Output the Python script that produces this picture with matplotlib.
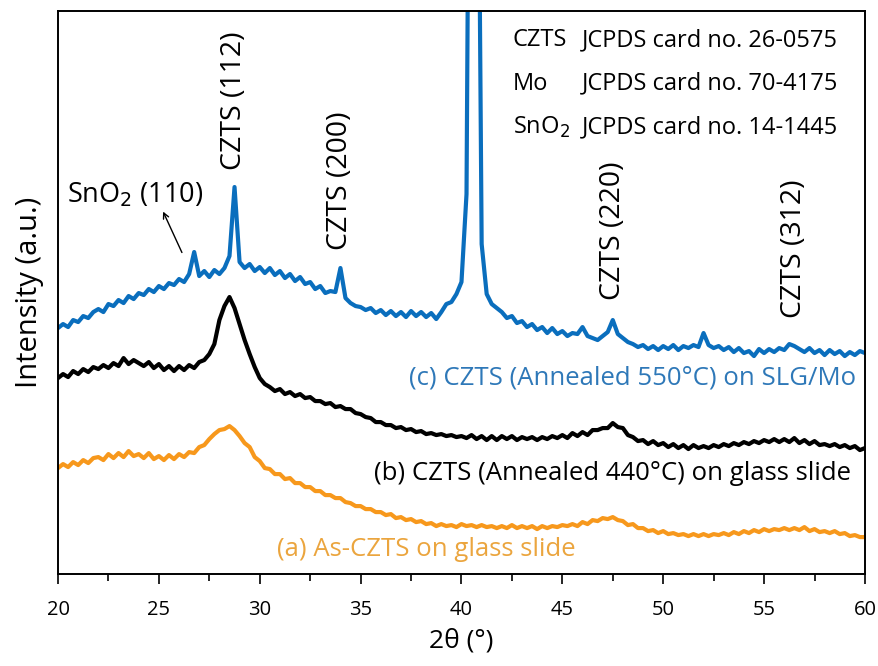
import numpy as np
import matplotlib.pyplot as plt
from matplotlib.ticker import MultipleLocator

plt.rcParams['font.family'] = ['Open Sans', 'DejaVu Sans']

# --- Data (intensity in arbitrary units) ---
two_theta = np.arange(20.0, 60.001, 0.25)

# (c) CZTS annealed 550 C on SLG/Mo
int_c = [246, 250, 247, 254, 252, 258, 256, 262,
         265, 262, 270, 268, 274, 271, 278, 275,
         281, 279, 285, 282, 288, 285, 291, 289,
         295, 292, 300, 322, 298, 303, 297, 304,
         300, 306, 318, 387, 312, 306, 310, 303,
         307, 301, 306, 299, 303, 296, 300, 293,
         297, 290, 292, 285, 288, 281, 283, 282,
         306, 276, 271, 268, 267, 264, 266, 261,
         264, 259, 263, 258, 262, 257, 263, 258,
         262, 257, 261, 255, 262, 270, 272, 280,
         292, 380, 1200, 1000, 330, 280, 270, 266,
         262, 256, 258, 251, 253, 247, 250, 244,
         247, 241, 246, 240, 243, 238, 241, 240,
         247, 238, 236, 234, 238, 242, 254, 240,
         236, 232, 230, 227, 229, 225, 228, 224,
         228, 225, 229, 224, 228, 226, 229, 227,
         241, 229, 226, 228, 224, 227, 222, 226,
         221, 223, 218, 225, 221, 225, 222, 226,
         224, 230, 228, 225, 222, 226, 221, 224,
         219, 224, 220, 223, 218, 222, 219, 223,
         221]

# (b) CZTS annealed 440 C on glass slide
int_b = [196, 200, 197, 203, 200, 205, 202, 207,
         205, 209, 206, 211, 208, 216, 210, 214,
         211, 208, 212, 206, 210, 204, 208, 203,
         208, 204, 209, 206, 212, 214, 220, 230,
         254, 268, 277, 266, 250, 234, 220, 207,
         196, 190, 187, 183, 185, 180, 182, 178,
         180, 176, 177, 173, 173, 170, 171, 167,
         168, 165, 165, 161, 160, 157, 156, 152,
         152, 149, 149, 146, 147, 144, 145, 142,
         143, 140, 141, 139, 140, 138, 139, 137,
         138, 136, 139, 135, 138, 134, 138, 134,
         138, 135, 138, 134, 137, 135, 137, 134,
         137, 135, 138, 136, 139, 136, 141, 138,
         142, 139, 144, 144, 146, 146, 151, 147,
         146, 139, 137, 133, 134, 130, 133, 129,
         131, 127, 130, 126, 129, 125, 129, 126,
         128, 126, 129, 127, 130, 128, 131, 129,
         132, 130, 133, 131, 134, 132, 135, 132,
         135, 132, 136, 131, 134, 130, 133, 129,
         130, 128, 130, 127, 129, 126, 128, 124,
         126]

# (a) As-CZTS on glass slide
int_a = [106, 110, 107, 112, 109, 114, 111, 116,
         117, 114, 120, 116, 121, 117, 123, 118,
         120, 116, 121, 115, 118, 114, 119, 115,
         120, 117, 122, 121, 127, 129, 135, 140,
         144, 145, 148, 144, 138, 131, 127, 117,
         113, 106, 105, 100, 100, 95, 96, 91,
         91, 87, 87, 83, 83, 79, 79, 76,
         76, 72, 71, 68, 68, 65, 65, 62,
         62, 59, 60, 56, 57, 54, 55, 52,
         53, 50, 51, 48, 50, 48, 49, 47,
         50, 48, 49, 47, 49, 47, 48, 46,
         48, 46, 49, 46, 48, 46, 48, 45,
         48, 46, 48, 47, 49, 48, 50, 48,
         52, 50, 54, 53, 56, 55, 57, 54,
         53, 49, 50, 46, 46, 43, 44, 41,
         43, 40, 41, 39, 40, 38, 40, 38,
         40, 38, 40, 39, 41, 39, 42, 40,
         43, 41, 44, 42, 45, 43, 45, 44,
         46, 44, 46, 44, 47, 43, 45, 42,
         43, 41, 43, 40, 41, 38, 39, 37,
         37]

peak_labels = ['CZTS (112)', 'CZTS (200)', 'CZTS (220)', 'CZTS (312)']
peak_pos = [28.7, 34.0, 47.5, 56.5]
peak_label_base = [404, 324, 274, 256]

card_phases = ['CZTS', 'Mo', r'SnO$_2$']
card_numbers = ['JCPDS card no. 26-0575', 'JCPDS card no. 70-4175',
                'JCPDS card no. 14-1445']

blue = '#0A6EBD'
orange = '#F7981C'

# --- Figure ---
fig = plt.figure(figsize=(8.79, 6.66), dpi=100)
ax = fig.add_axes([0.066, 0.138, 0.918, 0.8455])

ax.plot(two_theta, int_a, color=orange, lw=3.0)
ax.plot(two_theta, int_b, color='black', lw=3.0)
ax.plot(two_theta, int_c, color=blue, lw=3.0)

ax.set_xlim(20, 60)
ax.set_ylim(0, 563)
ax.xaxis.set_major_locator(MultipleLocator(5))
ax.xaxis.set_minor_locator(MultipleLocator(2.5))
ax.tick_params(axis='x', which='major', direction='out', length=7, width=1.2,
               labelsize=14.5, pad=12, colors='black')
ax.tick_params(axis='x', which='minor', direction='out', length=5, width=1.2)
ax.set_yticks([])
for s in ax.spines.values():
    s.set_linewidth(1.4)

ax.set_xlabel('2θ (°)', fontsize=19, labelpad=6)
ax.set_ylabel('Intensity (a.u.)', fontsize=21, labelpad=10)

# peak annotations
for lab, x, yb in zip(peak_labels, peak_pos, peak_label_base):
    ax.text(x, yb, lab, rotation=90, ha='center', va='bottom', fontsize=20.5)

ax.text(20.45, 379, r'SnO$_2$ (110)', ha='left', va='center', fontsize=19.5)
ax.annotate('', xy=(25.15, 365), xytext=(26.2, 319),
            arrowprops=dict(arrowstyle='->', color='black', lw=1.0))

# JCPDS card info
for i, (ph, card) in enumerate(zip(card_phases, card_numbers)):
    y = 534 - i * 43.5
    ax.text(42.55, y, ph, ha='left', va='center', fontsize=17)
    ax.text(45.95, y, card, ha='left', va='center', fontsize=17)

# sample labels
ax.text(59.55, 196, '(c) CZTS (Annealed 550°C) on SLG/Mo', ha='right',
        va='center', fontsize=18.5, color='#2E78B8')
ax.text(59.3, 101, '(b) CZTS (Annealed 440°C) on glass slide', ha='right',
        va='center', fontsize=18.5, color='black')
ax.text(30.85, 25, '(a) As-CZTS on glass slide', ha='left',
        va='center', fontsize=18.5, color='#EBA53E')

fig.savefig('out.png', dpi=100)
